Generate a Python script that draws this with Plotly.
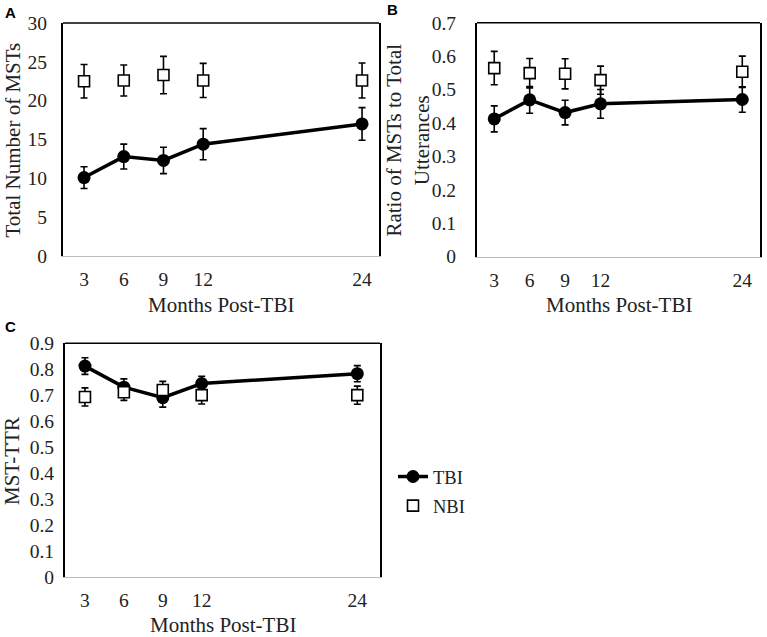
import plotly.graph_objects as go

months = [3, 6, 9, 12, 24]
tick_labels = ["3", "6", "9", "12", "24"]

# Panel A: Total Number of MSTs
a_tbi = [10.1, 12.8, 12.3, 14.4, 17.0]
a_tbi_err = [1.4, 1.6, 1.7, 2.0, 2.1]
a_nbi = [22.5, 22.6, 23.3, 22.6, 22.6]
a_nbi_err = [2.15, 2.0, 2.4, 2.2, 2.25]

# Panel B: Ratio of MSTs to Total Utterances
b_tbi = [0.412, 0.469, 0.431, 0.457, 0.470]
b_tbi_err = [0.039, 0.040, 0.037, 0.043, 0.038]
b_nbi = [0.564, 0.549, 0.547, 0.528, 0.553]
b_nbi_err = [0.050, 0.044, 0.045, 0.042, 0.047]

# Panel C: MST-TTR
c_tbi = [0.812, 0.731, 0.690, 0.745, 0.783]
c_tbi_err = [0.032, 0.032, 0.036, 0.028, 0.031]
c_nbi = [0.693, 0.711, 0.720, 0.700, 0.700]
c_nbi_err = [0.035, 0.031, 0.033, 0.034, 0.035]

FONT = "Liberation Serif"
TXT = "#222222"
W, H = 767, 637

panels = [
    dict(x="x", y="y", xa="xaxis", ya="yaxis",
         px=(63, 379), py=(23, 256),
         xr=[1.41, 25.28], yr=[0, 30], dt=5, ystand=10,
         tbi=a_tbi, tbie=a_tbi_err, nbi=a_nbi, nbie=a_nbi_err,
         ytitle="Total Number of MSTs", ytx=13, xty=303,
         letter="A", lx=10, ly=12),
    dict(x="x2", y="y2", xa="xaxis2", ya="yaxis2",
         px=(477, 760), py=(22.7, 256.5),
         xr=[1.54, 25.5], yr=[0, 0.7], dt=0.1, ystand=15,
         tbi=b_tbi, tbie=b_tbi_err, nbi=b_nbi, nbie=b_nbi_err,
         ytitle="Ratio of MSTs to Total<br>Utterances", ytx=408, xty=303,
         letter="B", lx=392, ly=10),
    dict(x="x3", y="y3", xa="xaxis3", ya="yaxis3",
         px=(65, 380), py=(343.3, 576.7),
         xr=[1.46, 25.75], yr=[0, 0.9], dt=0.1, ystand=5,
         tbi=c_tbi, tbie=c_tbi_err, nbi=c_nbi, nbie=c_nbi_err,
         ytitle="MST-TTR", ytx=12, xty=623,
         letter="C", lx=10, ly=326),
]

fig = go.Figure()
layout = {}
shapes = []
annotations = []


def fx(px):
    return px / W


def fy(py):
    return 1 - py / H


for i, p in enumerate(panels):
    show = i == 0
    fig.add_trace(go.Scatter(
        x=months, y=p["tbi"], xaxis=p["x"], yaxis=p["y"], mode="lines+markers",
        name="TBI", showlegend=show, legendgroup="tbi",
        line=dict(color="black", width=3.5),
        marker=dict(symbol="circle", size=13, color="black"),
        error_y=dict(type="data", array=p["tbie"], color="black",
                     thickness=1.6, width=3.5),
        cliponaxis=False,
    ))
    fig.add_trace(go.Scatter(
        x=months, y=p["nbi"], xaxis=p["x"], yaxis=p["y"], mode="markers",
        name="NBI", showlegend=show, legendgroup="nbi",
        marker=dict(symbol="square", size=11, color="white",
                    line=dict(color="black", width=1.6)),
        error_y=dict(type="data", array=p["nbie"], color="black",
                     thickness=1.6, width=3.5),
        cliponaxis=False,
    ))
    layout[p["xa"]] = dict(
        domain=[fx(p["px"][0]), fx(p["px"][1])], range=p["xr"], anchor=p["y"],
        tickmode="array", tickvals=months, ticktext=tick_labels,
        showline=True, linecolor="#bdbdbd", linewidth=1, ticks="",
        showgrid=False, zeroline=False, automargin=False,
        ticklabelstandoff=6,
        tickfont=dict(family=FONT, size=19.5, color=TXT),
    )
    layout[p["ya"]] = dict(
        domain=[fy(p["py"][1]), fy(p["py"][0])], range=p["yr"], anchor=p["x"],
        dtick=p["dt"], tick0=0, tickformat="~g",
        showline=True, linecolor="black", linewidth=2, mirror=True, ticks="",
        showgrid=False, zeroline=False, automargin=False,
        ticklabelstandoff=p["ystand"],
        tickfont=dict(family=FONT, size=19.5, color=TXT),
    )
    shapes.append(dict(type="line", xref=p["x"] + " domain", yref=p["y"] + " domain",
                       x0=0, x1=1, y0=1, y1=1, line=dict(color="black", width=1.5)))
    # panel letter
    annotations.append(dict(text="<b>" + p["letter"] + "</b>", xref="paper", yref="paper",
                            x=fx(p["lx"]), y=fy(p["ly"]), xanchor="center", yanchor="middle",
                            showarrow=False,
                            font=dict(family="Liberation Sans", size=15, color="black")))
    # y-axis title
    annotations.append(dict(text=p["ytitle"], xref="paper", yref="paper",
                            x=fx(p["ytx"]), y=fy((p["py"][0] + p["py"][1]) / 2 + 1),
                            xanchor="center", yanchor="middle", textangle=-90,
                            showarrow=False, align="center",
                            font=dict(family=FONT, size=21, color=TXT)))
    # x-axis title
    annotations.append(dict(text="Months Post-TBI", xref="paper", yref="paper",
                            x=fx((p["px"][0] + p["px"][1]) / 2), y=fy(p["xty"] + 2),
                            xanchor="center", yanchor="middle",
                            showarrow=False,
                            font=dict(family=FONT, size=21, color=TXT)))

fig.update_layout(
    width=W, height=H,
    margin=dict(l=0, r=0, t=0, b=0, autoexpand=False),
    paper_bgcolor="white", plot_bgcolor="white",
    showlegend=True,
    legend=dict(x=fx(393), y=fy(458), xanchor="left", yanchor="top",
                font=dict(family=FONT, size=18.5, color=TXT),
                itemwidth=30, tracegroupgap=2, bgcolor="rgba(0,0,0,0)"),
    shapes=shapes, annotations=annotations,
    **layout,
)

fig.write_html(
    "out.html",
    config={"displayModeBar": False},
    post_script="document.body.style.margin='0';document.body.style.overflow='hidden';",
)
